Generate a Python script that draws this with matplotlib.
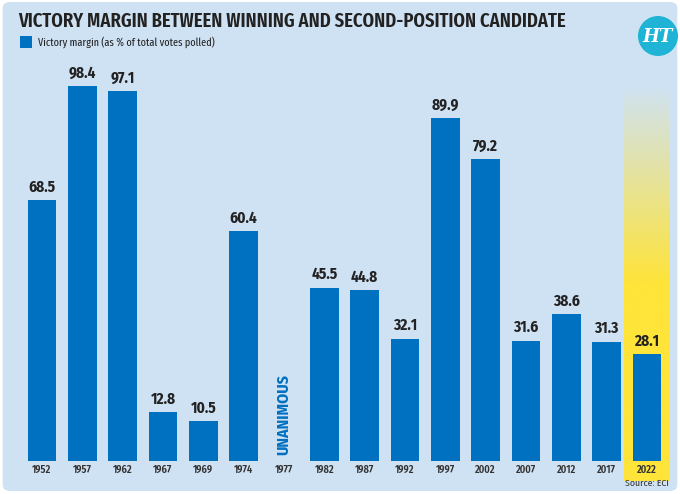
import matplotlib
matplotlib.use("Agg")
import matplotlib.pyplot as plt
import numpy as np
from matplotlib.patches import FancyBboxPatch, Circle
from matplotlib.colors import LinearSegmentedColormap

years = ["1952", "1957", "1962", "1967", "1969", "1974", "1977", "1982", "1987",
         "1992", "1997", "2002", "2007", "2012", "2017", "2022"]
margins = [68.5, 98.4, 97.1, 12.8, 10.5, 60.4, None, 45.5, 44.8, 32.1, 89.9,
           79.2, 31.6, 38.6, 31.3, 28.1]
value_labels = ["68.5", "98.4", "97.1", "12.8", "10.5", "60.4", "", "45.5", "44.8",
                "32.1", "89.9", "79.2", "31.6", "38.6", "31.3", "28.1"]

plt.rcParams['font.family'] = ['Fira Sans Condensed', 'DejaVu Sans']
XC = ['Fira Sans Extra Condensed', 'Fira Sans Condensed', 'DejaVu Sans']

BG = "#cfe2f3"
BLUE = "#0070c0"
DARK = "#222222"

fig = plt.figure(figsize=(6.8, 4.94), dpi=100)
fig.patch.set_facecolor("white")
fig.patches.append(FancyBboxPatch((0.004, 0.006), 0.992, 0.99, boxstyle="round,pad=0,rounding_size=0.012",
                                  transform=fig.transFigure, facecolor=BG, edgecolor="none", zorder=-10))

ax = fig.add_axes([0.032, 0.0128, 0.961, 0.864])
ax.set_facecolor("none")
ax.set_xlim(-0.5, 15.7)
ax.set_ylim(-7, 105)
ax.axis("off")

x = np.arange(len(years))
idx = len(years) - 1
grad = np.linspace(0, 1, 256).reshape(-1, 1)
cmap = LinearSegmentedColormap.from_list("hl", [(0, "#ffe43a"), (0.5, "#ffe43a"), (1.0, BG)])
ax.imshow(grad, cmap=cmap, aspect="auto", origin="lower",
          extent=[idx - 0.57, idx + 0.57, -5.2, 98.7], zorder=1)

vals = [v if v is not None else 0 for v in margins]
ax.bar(x, vals, width=0.71, color=BLUE, zorder=2)

for i, (v, lab) in enumerate(zip(margins, value_labels)):
    if v is not None:
        ax.text(x[i], v + 1.3, lab, ha="center", va="bottom", fontsize=11,
                fontweight="bold", color=DARK, zorder=3)
    ax.text(x[i], -2.4, years[i], ha="center", va="center", fontsize=7.5,
            fontweight="semibold", color="#333333", zorder=3)

ax.text(x[6], 1.6, "UNANIMOUS", rotation=90, ha="center", va="bottom", fontsize=11.5,
        fontweight="bold", color=BLUE, zorder=3)

ax.text(x[idx] + 0.55, -5.9, "Source: ECI", ha="right", va="center", fontsize=7,
        color="#333333", zorder=3)

fig.text(0.027, 0.957, "VICTORY MARGIN BETWEEN WINNING AND SECOND-POSITION CANDIDATE",
         ha="left", va="center", fontsize=14.5, fontweight="semibold", color="#222222",
         family=XC)
fig.patches.append(plt.Rectangle((20 / 680, 1 - 48 / 494), 12 / 680, 12 / 494,
                                 transform=fig.transFigure, facecolor=BLUE, edgecolor="none"))
fig.text(38 / 680, 1 - 42 / 494, "Victory margin (as % of total votes polled)",
         ha="left", va="center", fontsize=8, color="#222222", family=XC)

logo_ax = fig.add_axes([638 / 680, 1 - 56 / 494, 40 / 680, 40 / 494])
logo_ax.set_xlim(-1, 1); logo_ax.set_ylim(-1, 1); logo_ax.set_aspect("equal"); logo_ax.axis("off")
logo_ax.add_patch(Circle((0, 0), 1, facecolor="#1fb3d5", edgecolor="none"))
logo_ax.text(0, -0.05, "HT", ha="center", va="center", fontsize=13, fontweight="bold",
             fontstyle="italic", color="white", family="DejaVu Serif")

fig.savefig("out.png", dpi=100, facecolor=fig.get_facecolor())
